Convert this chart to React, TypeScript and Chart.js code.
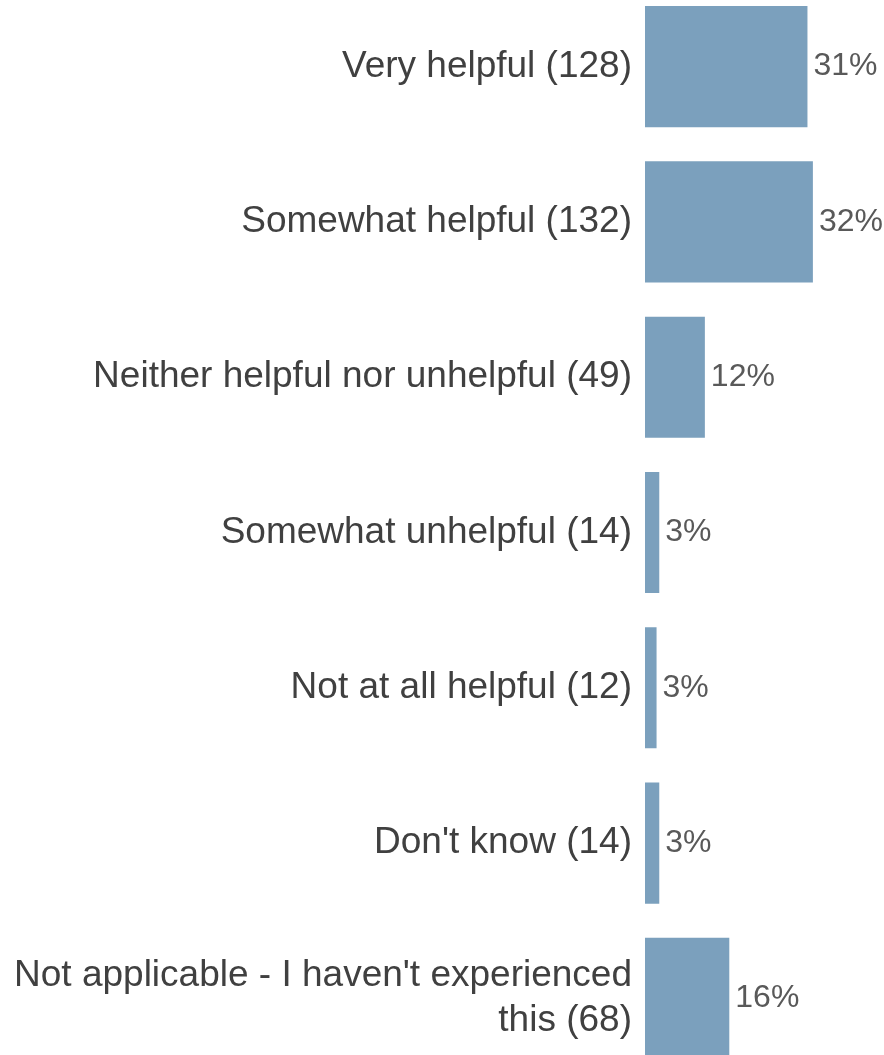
import React, { useEffect, useRef } from "react";
import { Chart, registerables } from "chart.js";

Chart.register(...registerables);

const categories: (string | string[])[] = [
  "Very helpful (128)",
  "Somewhat helpful (132)",
  "Neither helpful nor unhelpful (49)",
  "Somewhat unhelpful (14)",
  "Not at all helpful (12)",
  "Don't know (14)",
  ["Not applicable - I haven't experienced", "this (68)"],
];

const percentValues: number[] = [30.7, 31.7, 11.8, 3.4, 2.9, 3.4, 16.3];

const X_MIN = 0.77;
const X_MAX = 44.8;

const valueLabelPlugin = {
  id: "valueLabels",
  afterDatasetsDraw(chart: any) {
    const ctx = chart.ctx;
    const meta = chart.getDatasetMeta(0);
    ctx.save();
    ctx.font = "32px 'Liberation Sans', Arial, sans-serif";
    ctx.fillStyle = "#595959";
    ctx.textAlign = "left";
    ctx.textBaseline = "middle";
    meta.data.forEach((bar: any, i: number) => {
      const v = percentValues[i];
      ctx.fillText(Math.round(v) + "%", bar.x + 6, bar.y);
    });
    ctx.restore();
  },
};

export default function App() {
  const canvasRef = useRef<HTMLCanvasElement | null>(null);

  useEffect(() => {
    if (!canvasRef.current) return;
    const chart = new Chart(canvasRef.current, {
      type: "bar",
      data: {
        labels: categories,
        datasets: [
          {
            data: percentValues,
            backgroundColor: "#7BA0BD",
            borderWidth: 0,
            barPercentage: 0.78,
            categoryPercentage: 1,
            base: X_MIN,
          } as any,
        ],
      },
      options: {
        indexAxis: "y",
        animation: false,
        responsive: true,
        maintainAspectRatio: false,
        layout: { padding: 0 },
        plugins: {
          legend: { display: false },
          tooltip: { enabled: false },
        },
        scales: {
          x: {
            display: false,
            min: X_MIN,
            max: X_MAX,
          },
          y: {
            grid: { display: false, drawTicks: false },
            border: { display: false },
            afterFit: (scale: any) => {
              scale.width = 645;
              scale.paddingTop = 0;
              scale.paddingBottom = 0;
            },
            ticks: {
              padding: 13,
              color: "#404040",
              font: {
                family: "'Liberation Sans', Arial, sans-serif",
                size: 37,
                lineHeight: 1.2,
              },
            },
          },
        },
      },
      plugins: [valueLabelPlugin],
    });
    return () => chart.destroy();
  }, []);

  return (
    <div
      style={{
        position: "fixed",
        left: 0,
        top: 0,
        width: 884,
        height: 1055,
        overflow: "hidden",
        background: "#ffffff",
      }}
    >
      <div
        style={{
          position: "absolute",
          left: 0,
          top: -11,
          width: 884,
          height: 1087,
        }}
      >
        <canvas ref={canvasRef} />
      </div>
    </div>
  );
}
